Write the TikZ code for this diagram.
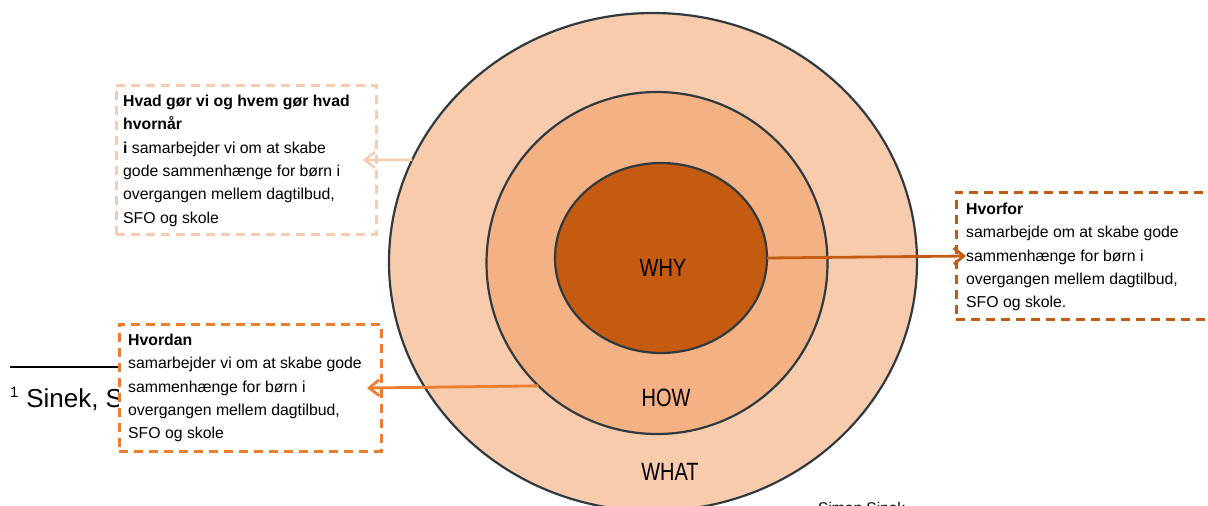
\documentclass[tikz,border=0pt]{standalone}
\usepackage{fontspec}
\setmainfont{Liberation Sans}
\usetikzlibrary{shapes.geometric,arrows.meta}
\definecolor{ring1}{HTML}{F8CBAD}
\definecolor{ring2}{HTML}{F4B183}
\definecolor{ring3}{HTML}{C55A11}
\definecolor{mid}{HTML}{ED7D31}
\definecolor{edge}{HTML}{2E3A40}
\tikzset{
  ring/.style={ellipse, draw=edge, line width=2.2pt, inner sep=0pt, outer sep=0pt},
  lbl/.style={font=\fontsize{25}{28}\selectfont, inner sep=0pt},
  dbox/.style={draw, dash pattern=on 9pt off 6pt, line width=2.8pt, fill=white},
  btxt/.style={anchor=north west, inner sep=0pt, align=left, font=\fontsize{15.8}{23.3}\selectfont},
  conn/.style={line width=2.8pt, -{Straight Barb[length=10pt,width=16pt]}}
}
\begin{document}
\begin{tikzpicture}[x=1pt,y=-1pt]
\clip (0,0) rectangle (1208,506);
\useasboundingbox (0,0) rectangle (1208,506);
% circles
\node[ring, fill=ring1, minimum width=528pt, minimum height=498pt] (outer) at (653,262) {};
\node[ring, fill=ring2, minimum width=341pt, minimum height=342pt] (middle) at (657,263) {};
\node[ring, fill=ring3, minimum width=212pt, minimum height=190pt] (inner) at (661,258) {};
\node[lbl] (why) at (663,268) {\scalebox{0.8}[1]{WHY}};
\node[lbl] (how) at (666,398) {\scalebox{0.8}[1]{HOW}};
\node[lbl] (what) at (670,472) {\scalebox{0.8}[1]{WHAT}};
% footnote
\coordinate (fl1) at (10,367);
\coordinate (fl2) at (122,367);
\draw[line width=1.3pt] (fl1) -- (fl2);
\node[anchor=base west, inner sep=0pt, font=\fontsize{26}{30}\selectfont] (fn) at (10,407) {\textsuperscript{\fontsize{15}{18}\selectfont 1} Sinek, S};
% boxes
\node[dbox, draw=ring1, anchor=north west, minimum width=260pt, minimum height=149pt, inner sep=0pt] (b1) at (115,84) {};
\node[dbox, draw=ring3, anchor=north west, minimum width=270pt, minimum height=127pt, inner sep=0pt] (b2) at (955,191) {};
\node[dbox, draw=mid, anchor=north west, minimum width=262pt, minimum height=127pt, inner sep=0pt] (b3) at (118,323) {};
\node[btxt] (t1) at (123,95) {\textbf{Hvad gør vi og hvem gør hvad}\\\textbf{hvornår}\\\textbf{i} samarbejder vi om at skabe\\gode sammenhænge for børn i\\overgangen mellem dagtilbud,\\SFO og skole};
\node[btxt] (t2) at (966,203) {\textbf{Hvorfor}\\samarbejde om at skabe gode\\sammenhænge for børn i\\overgangen mellem dagtilbud,\\SFO og skole.};
\node[btxt] (t3) at (128,334) {\textbf{Hvordan}\\samarbejder vi om at skabe gode\\sammenhænge for børn i\\overgangen mellem dagtilbud,\\SFO og skole};
% connectors
\coordinate (e1) at (363,160);
\coordinate (e2) at (966,256);
\coordinate (e3) at (367,388);
\draw[conn, draw=ring1, line width=2.4pt] (outer.157) -- (e1);
\draw[conn, draw=ring3] (inner.east) -- (e2);
\draw[conn, draw=mid] (middle.226) -- (e3);
% source
\node[anchor=base west, inner sep=0pt, font=\fontsize{15.5}{18}\selectfont] (src) at (818,513) {Simon Sinek};
\end{tikzpicture}
\end{document}
